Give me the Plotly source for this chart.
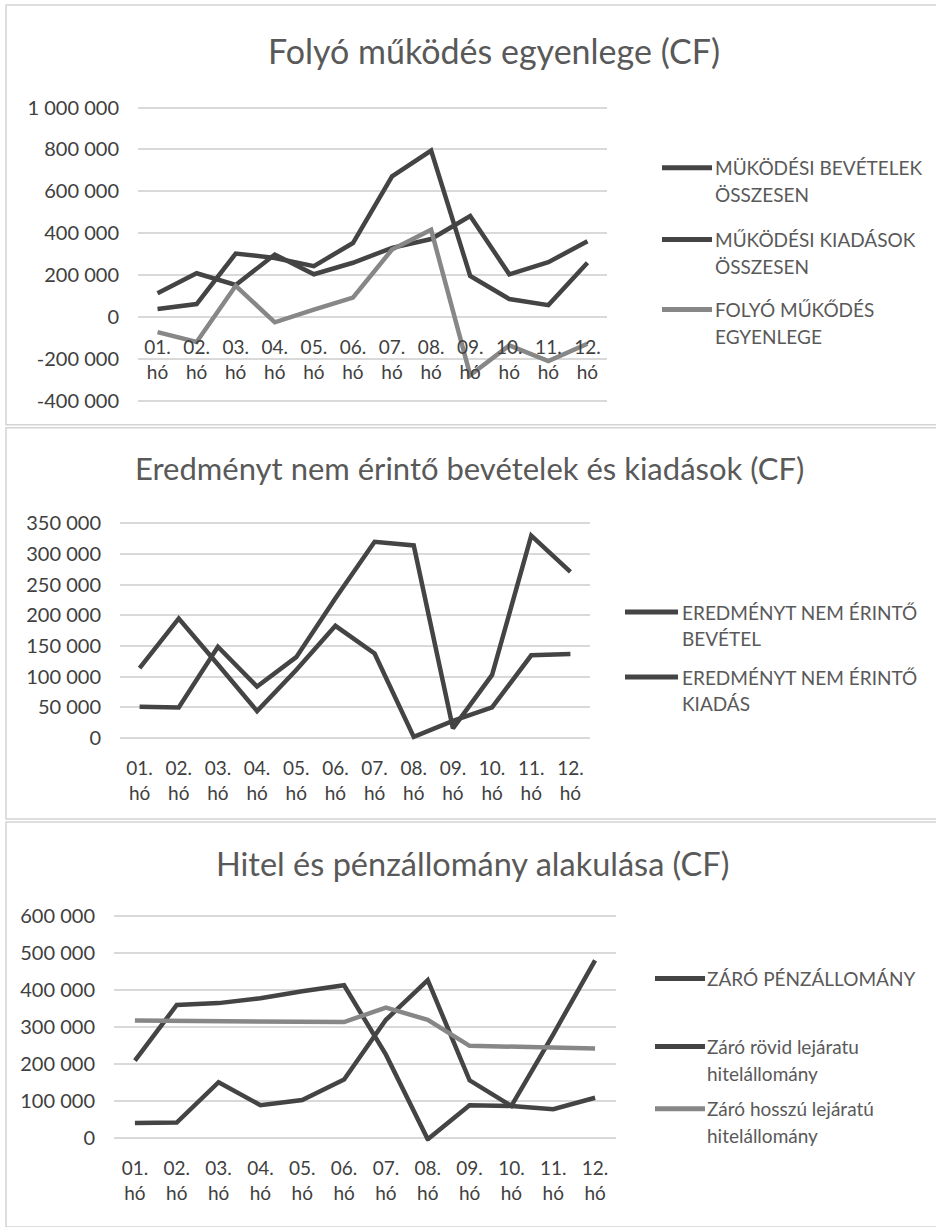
import plotly.graph_objects as go

W, H = 936, 1227

# ---------------- data ----------------
MONTHS = ["01.", "02.", "03.", "04.", "05.", "06.", "07.", "08.", "09.", "10.", "11.", "12."]
MONTH_WORD = "hó"

# Chart 1 – Folyó működés egyenlege (CF)
CF1_TITLE = "Folyó működés egyenlege (CF)"
CF1_NAMES = ["MÜKÖDÉSI BEVÉTELEK<br>ÖSSZESEN", "MŰKÖDÉSI KIADÁSOK<br>ÖSSZESEN", "FOLYÓ MŰKŐDÉS<br>EGYENLEGE"]
CF1_REVENUE = [39000, 63000, 304000, 283000, 244000, 354000, 672000, 795000, 197000, 87000, 58000, 260000]
CF1_EXPENSE = [115000, 210000, 154000, 299000, 205000, 260000, 331000, 373000, 483000, 205000, 263000, 362000]
CF1_BALANCE = [-71000, -118000, 150000, -24000, 36000, 94000, 323000, 417000, -276000, -134000, -209000, -126000]
CF1_TICKVALS = [-400000, -200000, 0, 200000, 400000, 600000, 800000, 1000000]
CF1_TICKTEXT = ["-400 000", "-200 000", "0", "200 000", "400 000", "600 000", "800 000", "1 000 000"]

# Chart 2 – Eredményt nem érintő bevételek és kiadások (CF)
CF2_TITLE = "Eredményt nem érintő bevételek és kiadások (CF)"
CF2_NAMES = ["EREDMÉNYT NEM ÉRINTŐ<br>BEVÉTEL", "EREDMÉNYT NEM ÉRINTŐ<br>KIADÁS"]
CF2_INCOME = [51000, 50000, 149000, 84000, 132000, 228000, 320000, 314000, 16000, 103000, 330000, 271000]
CF2_OUTGO = [114000, 195000, 120000, 44000, 111000, 183000, 138000, 2000, 28000, 50000, 135000, 137000]
CF2_TICKVALS = [0, 50000, 100000, 150000, 200000, 250000, 300000, 350000]
CF2_TICKTEXT = ["0", "50 000", "100 000", "150 000", "200 000", "250 000", "300 000", "350 000"]

# Chart 3 – Hitel és pénzállomány alakulása (CF)
CF3_TITLE = "Hitel és pénzállomány alakulása (CF)"
CF3_NAMES = ["ZÁRÓ PÉNZÁLLOMÁNY", "Záró rövid lejáratu<br>hitelállomány", "Záró hosszú lejáratú<br>hitelállomány"]
CF3_CASH = [209000, 359000, 364000, 377000, 396000, 412000, 225000, -3000, 89000, 87000, 78000, 109000]
CF3_SHORT = [41000, 42000, 151000, 89000, 103000, 158000, 319000, 426000, 156000, 87000, 280000, 479000]
CF3_LONG = [317000, 316000, 315000, 314000, 313000, 313000, 352000, 319000, 249000, 246000, 244000, 242000]
CF3_TICKVALS = [0, 100000, 200000, 300000, 400000, 500000, 600000]
CF3_TICKTEXT = ["0", "100 000", "200 000", "300 000", "400 000", "500 000", "600 000"]

# ---------------- styling ----------------
FONT = "Lato, Carlito, Calibri, sans-serif"
DARK = "#444444"
LIGHT = "#878787"
GRID = "#d9d9d9"
TXT = "#404040"
LEG_TXT = "#595959"
LEG_FS = 19
LEG_LINE_GAP = 27


def fx(px):
    return px / W


def fy(py):
    return 1 - py / H


month_labels = [f"{m}<br>{MONTH_WORD}" for m in MONTHS]

charts = [
    dict(title=CF1_TITLE, title_fs=34, title_xy=(494, 41), x=(138, 607), y=(99, 397), rng=(-400000, 1000000),
         tv=CF1_TICKVALS, tt=CF1_TICKTEXT,
         series=[(CF1_REVENUE, CF1_NAMES[0], DARK), (CF1_EXPENSE, CF1_NAMES[1], DARK), (CF1_BALANCE, CF1_NAMES[2], LIGHT)],
         legend=dict(x0=662, x1=712, tx=713, ys=[160, 233, 304]), border=(6, -5, 945, 421)),
    dict(title=CF2_TITLE, title_fs=31, title_xy=(469, 465), x=(120, 590), y=(521, 739), rng=(0, 350000),
         tv=CF2_TICKVALS, tt=CF2_TICKTEXT,
         series=[(CF2_INCOME, CF2_NAMES[0], DARK), (CF2_OUTGO, CF2_NAMES[1], DARK)],
         legend=dict(x0=625, x1=678, tx=680, ys=[611, 677]), border=(6, 424, 945, 821)),
    dict(title=CF3_TITLE, title_fs=32.5, title_xy=(472, 866), x=(114, 616), y=(919, 1145), rng=(0, 600000),
         tv=CF3_TICKVALS, tt=CF3_TICKTEXT,
         series=[(CF3_CASH, CF3_NAMES[0], DARK), (CF3_SHORT, CF3_NAMES[1], DARK), (CF3_LONG, CF3_NAMES[2], LIGHT)],
         legend=dict(x0=655, x1=705, tx=705, ys=[983, 1052, 1115]), border=(6, 824, 945, 1235)),
]

fig = go.Figure()
shapes = []
annotations = []
layout_axes = {}

for i, c in enumerate(charts, start=1):
    xa = "x" if i == 1 else f"x{i}"
    ya = "y" if i == 1 else f"y{i}"
    for vals, name, col in c["series"]:
        fig.add_trace(go.Scatter(x=MONTHS, y=vals, name=name.replace("<br>", " "), mode="lines",
                                 line=dict(color=col, width=4.5), xaxis=xa, yaxis=ya, showlegend=False))
    r0, r1 = c["rng"]
    top_px, bot_px = c["y"]
    per_px = (r1 - r0) / (bot_px - top_px)
    pad_px = 3  # small padding so edge gridlines are drawn
    zero_px = bot_px - (0 - r0) / per_px
    layout_axes[f"xaxis{'' if i == 1 else i}"] = dict(
        domain=[fx(c["x"][0]), fx(c["x"][1])], anchor="free", position=fy(zero_px),
        type="category", categoryorder="array", categoryarray=MONTHS,
        tickvals=MONTHS, ticktext=month_labels, showgrid=False, showline=False, zeroline=False,
        ticks="", ticklabelstandoff=17, tickfont=dict(family=FONT, size=19, color=TXT), fixedrange=True,
        range=[-0.5, 11.5])
    layout_axes[f"yaxis{'' if i == 1 else i}"] = dict(
        domain=[fy(bot_px + pad_px), fy(top_px - pad_px)], anchor=xa,
        range=[r0 - pad_px * per_px, r1 + pad_px * per_px],
        tickvals=c["tv"], ticktext=c["tt"], showgrid=True, gridcolor=GRID, gridwidth=1.5,
        zeroline=False, showline=False, ticks="", ticklabelstandoff=18,
        tickfont=dict(family=FONT, size=20, color=TXT), fixedrange=True)
    # chart title
    annotations.append(dict(text=c["title"], x=fx(c["title_xy"][0]), y=fy(c["title_xy"][1]), xref="paper",
                            yref="paper", xanchor="center", yanchor="middle", showarrow=False,
                            font=dict(family=FONT, size=c["title_fs"], color=LEG_TXT)))
    # legend (drawn manually to follow the reference layout)
    lg = c["legend"]
    for (vals, name, col), ly in zip(c["series"], lg["ys"]):
        shapes.append(dict(type="line", xref="paper", yref="paper", x0=fx(lg["x0"]), x1=fx(lg["x1"]),
                           y0=fy(ly), y1=fy(ly), line=dict(color=col, width=5)))
        for k, part in enumerate(name.split("<br>")):
            annotations.append(dict(text=part, x=fx(lg["tx"]), y=fy(ly + k * LEG_LINE_GAP), xref="paper",
                                    yref="paper", xanchor="left", yanchor="middle", align="left",
                                    showarrow=False, font=dict(family=FONT, size=LEG_FS, color=LEG_TXT)))
    b = c["border"]
    shapes.append(dict(type="rect", xref="paper", yref="paper", x0=fx(b[0]), x1=fx(b[2]), y0=fy(b[3]), y1=fy(b[1]),
                       line=dict(color="#d4d4d4", width=1.5), fillcolor="rgba(0,0,0,0)", layer="below"))

fig.update_layout(width=W, height=H, autosize=False, margin=dict(l=0, r=0, t=0, b=0),
                  paper_bgcolor="white", plot_bgcolor="white", showlegend=False,
                  shapes=shapes, annotations=annotations, font=dict(family=FONT), **layout_axes)

fig.write_html("out.html", config={"displayModeBar": False},
               post_script="document.body.style.margin='0';document.body.style.overflow='hidden';")
